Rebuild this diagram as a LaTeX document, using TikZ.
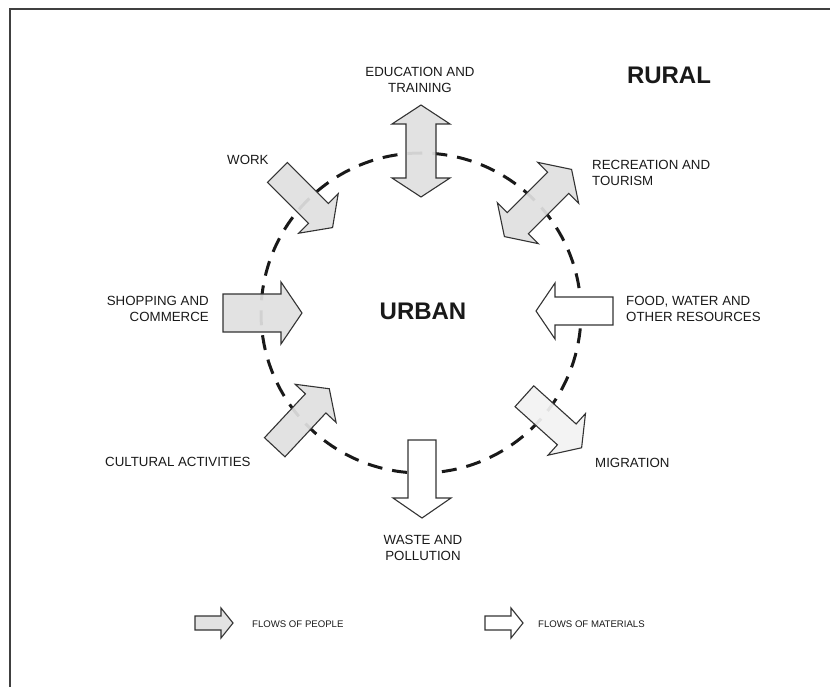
\documentclass[tikz,border=0pt]{standalone}
\usepackage{fontspec}
\setmainfont{Liberation Sans}
\begin{document}
\begin{tikzpicture}[x=1pt,y=1pt,
  % single-headed block arrow pointing along +x, centred on the origin
  pics/onearrow/.style args={#1/#2/#3/#4}{code={
    \path[pic actions] (-#1/2,-#2) -- (#1/2-#4,-#2) -- (#1/2-#4,-#3) -- (#1/2,0)
      -- (#1/2-#4,#3) -- (#1/2-#4,#2) -- (-#1/2,#2) -- cycle;}},
  % double-headed block arrow along the x axis, centred on the origin
  pics/twoarrow/.style args={#1/#2/#3/#4}{code={
    \path[pic actions] (-#1/2,0) -- (-#1/2+#4,#3) -- (-#1/2+#4,#2) -- (#1/2-#4,#2)
      -- (#1/2-#4,#3) -- (#1/2,0) -- (#1/2-#4,-#3) -- (#1/2-#4,-#2)
      -- (-#1/2+#4,-#2) -- (-#1/2+#4,-#3) -- cycle;}},
  people/.style={draw=black!80, line width=1.1pt, fill=black!12, fill opacity=0.93, line join=miter},
  peoplelight/.style={draw=black!80, line width=1.1pt, fill=black!5, fill opacity=0.93, line join=miter},
  material/.style={draw=black!80, line width=1.1pt, fill=white, line join=miter},
  lbl/.style={font=\fontsize{13.3}{16.5}\selectfont, text=black!90, inner sep=0pt},
  keytext/.style={font=\fontsize{9.6}{11}\selectfont, text=black!90, inner sep=0pt, anchor=west},
  bigtitle/.style={font=\fontsize{24}{28}\selectfont\bfseries, text=black!90, inner sep=0pt},
  ring/.style={line width=3pt, dash pattern=on 15pt off 10pt, black!90}
]
\useasboundingbox (0,0) rectangle (830,-687);
\clip (0,0) rectangle (830,-687);

% outer frame
\draw[line width=2.5pt, black!75] (10,-9) rectangle (845,-700);

% boundary between urban and rural
\node[circle, minimum size=320pt, inner sep=0pt] (city) at (421,-313) {};
\draw[ring] (city.center) circle[radius=160pt];

% flows of people
\pic[people, rotate=90]  at (421,-151) {twoarrow=92/15/29/19};
\pic[people, rotate=45]  at (538,-203) {twoarrow=95/15/29/19};
\pic[people, rotate=-45] at (305,-200) {onearrow=78/14/28/20};
\pic[people]             at (262.5,-313) {onearrow=79/19/31/21};
\pic[people, rotate=47]  at (302,-418) {onearrow=80/14/28/20};
\pic[peoplelight, rotate=-42] at (553,-422) {onearrow=77/14/28/20};

% flows of materials
\pic[material, rotate=180] at (574.5,-311) {onearrow=77/14/28/19};
\pic[material, rotate=-90] at (422,-479)   {onearrow=78/14/29/20};

% labels
\node[bigtitle] (rural) at (669,-75) {RURAL};
\node[bigtitle] (urban) at (423,-311) {URBAN};
\node[lbl, align=center] (edu) at (420,-80) {EDUCATION AND\\TRAINING};
\node[lbl, anchor=west] (work) at (227,-160) {WORK};
\node[lbl, anchor=west, align=left] (rec) at (592,-173) {RECREATION AND\\TOURISM};
\node[lbl, anchor=east, align=right] (shop) at (209,-309) {SHOPPING AND\\COMMERCE};
\node[lbl, anchor=west, align=left] (food) at (626,-309) {FOOD, WATER AND\\OTHER RESOURCES};
\node[lbl, anchor=west] (cult) at (105,-462) {CULTURAL ACTIVITIES};
\node[lbl, anchor=west] (migr) at (595,-463) {MIGRATION};
\node[lbl, align=center] (waste) at (423,-548) {WASTE AND\\POLLUTION};

% key
\pic[people]   at (214,-623) {onearrow=38/7/15/12};
\node[keytext] (keyp) at (252,-624) {FLOWS OF PEOPLE};
\pic[material] at (504,-623) {onearrow=38/7/15/12};
\node[keytext] (keym) at (538,-624) {FLOWS OF MATERIALS};
\end{tikzpicture}
\end{document}
